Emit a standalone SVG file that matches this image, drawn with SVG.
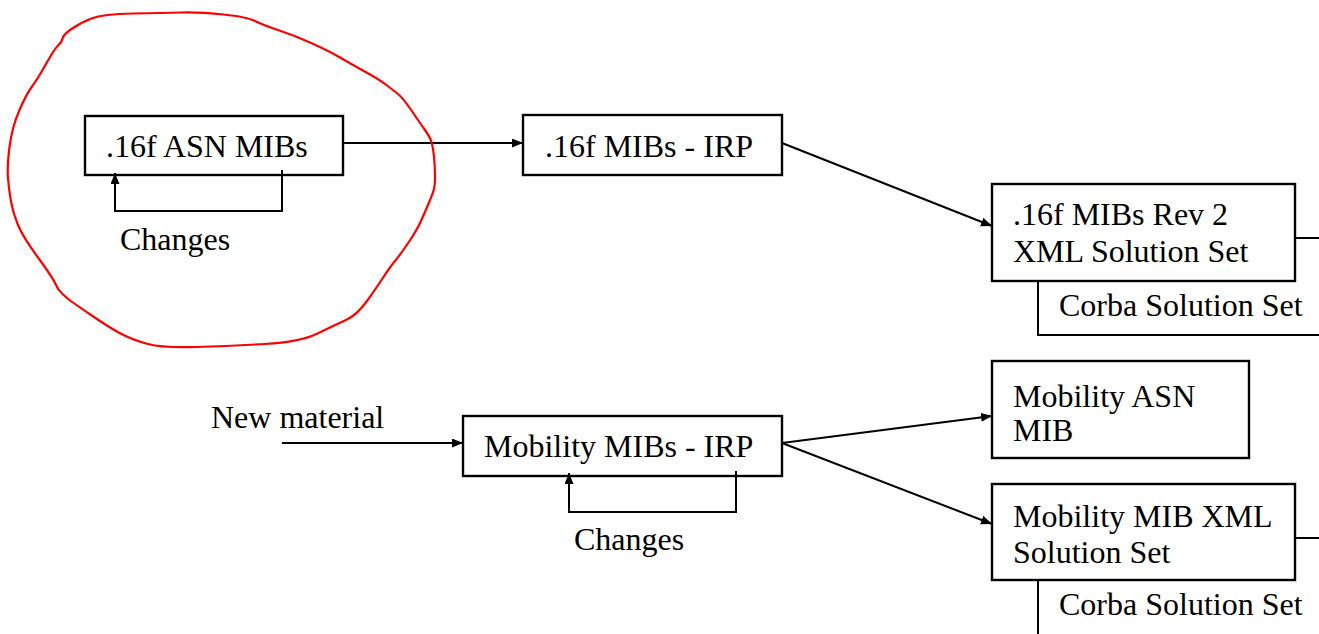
<svg xmlns="http://www.w3.org/2000/svg" width="1319" height="634" viewBox="0 0 1319 634">
<style>
.box{fill:#fff;stroke:#000;stroke-width:2.4}
.t{font-family:'Liberation Serif','Times New Roman',serif;font-size:32px;fill:#000}
.c{fill:none;stroke:#000;stroke-width:2}
.red{fill:none;stroke:#f00;stroke-width:2.2;stroke-linejoin:round}
</style>
<defs>
<marker id="ah" markerUnits="userSpaceOnUse" markerWidth="12" markerHeight="10" refX="11" refY="4.5" orient="auto" viewBox="0 0 12 10">
<path d="M0,0 L11,4.5 L0,9 z" fill="#000"/>
</marker>
</defs>
<rect width="1319" height="634" fill="#fff"/>
<g id="corba1">
<path class="c" d="M1038,281 V335 H1320"/>
<text class="t" x="1059" y="316">Corba Solution Set</text>
</g>
<g id="corba2">
<path class="c" d="M1038,580 V640"/>
<text class="t" x="1059" y="615">Corba Solution Set</text>
</g>
<g id="connectors">
<path class="c" d="M343,143 H523" marker-end="url(#ah)"/>
<path class="c" d="M782,143 L992,226" marker-end="url(#ah)"/>
<path class="c" d="M282,443 H463" marker-end="url(#ah)"/>
<path class="c" d="M782,443 L992,416" marker-end="url(#ah)"/>
<path class="c" d="M782,443 L992,524" marker-end="url(#ah)"/>
<path class="c" d="M282,170 V211 H115 V173" marker-end="url(#ah)"/>
<path class="c" d="M736,471 V512 H569 V473" marker-end="url(#ah)"/>
<path class="c" d="M1295,238 H1320"/>
<path class="c" d="M1295,538 H1320"/>
</g>
<g id="asn">
<rect class="box" x="85" y="116" width="258" height="59" style="fill:none"/>
<text class="t" x="106" y="157">.16f ASN MIBs</text>
</g>
<text class="t" x="120" y="250">Changes</text>
<g id="irp">
<rect class="box" x="523" y="115" width="259" height="60"/>
<text class="t" x="545" y="157">.16f MIBs - IRP</text>
</g>
<g id="rev2">
<rect class="box" x="992" y="184" width="303" height="97"/>
<text class="t" x="1013" y="225">.16f MIBs Rev 2</text>
<text class="t" x="1013" y="262">XML Solution Set</text>
</g>
<text class="t" x="211" y="428">New material</text>
<g id="mobirp">
<rect class="box" x="463" y="416" width="319" height="60" style="fill:none"/>
<text class="t" x="484" y="457">Mobility MIBs - IRP</text>
</g>
<text class="t" x="574" y="550">Changes</text>
<g id="mobasn">
<rect class="box" x="992" y="361" width="257" height="97"/>
<text class="t" x="1013" y="407">Mobility ASN</text>
<text class="t" x="1013" y="441">MIB</text>
</g>
<g id="mobxml">
<rect class="box" x="992" y="484" width="303" height="96"/>
<text class="t" x="1013" y="527">Mobility MIB XML</text>
<text class="t" x="1013" y="563">Solution Set</text>
</g>
<g id="circle">
<path class="red" d="M133,13.5 Q163,13 181.5,12.5 Q200,12 223.5,14.5 Q247,17 255,21 Q263,25 278,30 Q293,35 310,42.5 Q327,50 340,57.5 Q353,65 366.5,72.5 Q380,80 386.5,85 Q393,90 398,94 Q403,98 411.5,110.5 Q420,123 425,130 Q430,137 431.5,142 Q433,147 434,157 Q435,167 435,176 Q435,185 434,189 Q433,193 429,202.5 Q425,212 421,221 Q417,230 408.5,242.5 Q400,255 395,261 Q390,267 383.5,277 Q377,287 367,301 Q357,315 346,320 Q335,325 317.5,333.5 Q300,342 265,344 Q230,346 196.5,347 Q163,348 148,344 Q133,340 121.5,334 Q110,328 91,315 Q72,302 69.5,300 Q67,298 62.5,294 Q58,290 55.5,284 Q53,278 38,257.5 Q23,237 18,225 Q13,213 11,201.5 Q9,190 8,178.5 Q7,167 9.5,147 Q12,127 19.5,110 Q27,93 32,86.5 Q37,80 46,64 Q55,48 58.5,45 Q62,42 62.5,38.5 Q63,35 71.5,29 Q80,23 91.5,18.5 Q103,14 133,13.5 Z"/>
</g>
</svg>
